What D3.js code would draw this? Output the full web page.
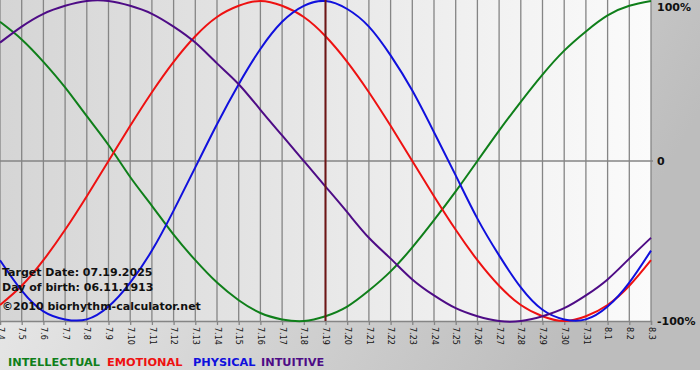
<!DOCTYPE html>
<html>
<head>
<meta charset="utf-8">
<script src="https://cdn.jsdelivr.net/npm/d3@7"></script>
<style>
  body { margin: 0; background: #fff; }
  svg { display: block; font-family: "DejaVu Sans", Verdana, sans-serif; }
</style>
</head>
<body>
<svg id="chart" width="700" height="380"></svg>
<script>
// days shown: 7.4 .. 8.3 (2025)
const startDay = new Date(Date.UTC(2025, 6, 4));
const targetDay = new Date(Date.UTC(2025, 6, 19));
const dayCount = 31;

// values, one per day (-1 .. 1)
const physical = [-0.62, -0.81, -0.94, -0.99, -0.99, -0.91, -0.76, -0.56, -0.31, -0.04, 0.23, 0.48, 0.70, 0.87, 0.97, 1.00,
  0.95, 0.84, 0.66, 0.44, 0.18, -0.09, -0.36, -0.59, -0.79, -0.93, -0.99, -0.99, -0.91, -0.76, -0.56];
const emotional = [-0.90, -0.78, -0.62, -0.43, -0.22, 0.00, 0.22, 0.43, 0.62, 0.78, 0.90, 0.97, 1.00, 0.97, 0.90, 0.78,
  0.62, 0.43, 0.22, 0.00, -0.22, -0.43, -0.62, -0.78, -0.90, -0.97, -1.00, -0.97, -0.90, -0.78, -0.62];
const intellectual = [0.87, 0.76, 0.62, 0.46, 0.28, 0.10, -0.10, -0.28, -0.46, -0.62, -0.76, -0.87, -0.95, -0.99, -1.00, -0.97,
  -0.91, -0.81, -0.69, -0.54, -0.37, -0.19, 0.00, 0.19, 0.37, 0.54, 0.69, 0.81, 0.91, 0.97, 1.00];
const intuitive = [0.74, 0.84, 0.92, 0.97, 1.00, 1.00, 0.97, 0.92, 0.84, 0.74, 0.61, 0.48, 0.32, 0.16, 0.00, -0.16,
  -0.32, -0.48, -0.61, -0.74, -0.84, -0.92, -0.97, -1.00, -1.00, -0.97, -0.92, -0.84, -0.74, -0.61, -0.48];

const series = [
  { name: 'INTELLECTUAL', color: '#0f7f1a', values: intellectual },
  { name: 'EMOTIONAL', color: '#ee1111', values: emotional },
  { name: 'PHYSICAL', color: '#1010dd', values: physical },
  { name: 'INTUITIVE', color: '#4e0c86', values: intuitive }
];
const yLabels = ['100%', '0', '-100%'];
const infoLines = ['Target Date: 07.19.2025', 'Day of birth: 06.11.1913', '©2010 biorhythm-calculator.net'];

const days = d3.range(dayCount).map(i => d3.utcDay.offset(startDay, i));

const svg = d3.select('#chart');
const plot = { left: 0, right: 651, top: 1, bottom: 321 };

const x = d3.scaleUtc().domain([days[0], days[days.length - 1]]).range([plot.left, plot.right]);
const y = d3.scaleLinear().domain([-1, 1]).range([plot.bottom, plot.top]);

// Backgrounds
const defs = svg.append('defs');
const outerGrad = defs.append('linearGradient').attr('id', 'outerGrad')
  .attr('x1', 0).attr('y1', 0).attr('x2', 1).attr('y2', 0.3);
outerGrad.append('stop').attr('offset', '0%').attr('stop-color', '#f2f2f2');
outerGrad.append('stop').attr('offset', '100%').attr('stop-color', '#bdbdbd');

const plotGrad = defs.append('linearGradient').attr('id', 'plotGrad')
  .attr('x1', 0).attr('y1', 0).attr('x2', 1).attr('y2', 0);
plotGrad.append('stop').attr('offset', '0%').attr('stop-color', '#d5d5d5');
plotGrad.append('stop').attr('offset', '100%').attr('stop-color', '#fbfbfb');

svg.append('rect').attr('width', 700).attr('height', 370).attr('fill', 'url(#outerGrad)');
svg.append('rect')
  .attr('x', plot.left).attr('y', 0)
  .attr('width', plot.right - plot.left).attr('height', plot.bottom)
  .attr('fill', 'url(#plotGrad)');

// Vertical grid
svg.append('g')
  .selectAll('line')
  .data(days)
  .join('line')
  .attr('x1', d => x(d)).attr('x2', d => x(d))
  .attr('y1', 0).attr('y2', plot.bottom)
  .attr('stroke', '#858585')
  .attr('stroke-width', 1.3);

// Zero line
svg.append('line')
  .attr('x1', plot.left).attr('x2', plot.right + 2)
  .attr('y1', y(0)).attr('y2', y(0))
  .attr('stroke', '#858585').attr('stroke-width', 1.3);

// Bottom axis
const xAxis = d3.axisBottom(x)
  .tickValues(days)
  .tickSize(4)
  .tickFormat(d3.utcFormat('%-m.%-d'));

const axisG = svg.append('g')
  .attr('transform', `translate(0,${plot.bottom})`)
  .call(xAxis);
axisG.select('.domain').attr('stroke', '#858585').attr('stroke-width', 1.3);
axisG.selectAll('.tick line').attr('stroke', '#858585').attr('stroke-width', 1.3);
axisG.selectAll('.tick text')
  .attr('font-family', '"DejaVu Sans", sans-serif')
  .attr('font-size', 8)
  .attr('fill', '#111')
  .attr('text-anchor', 'start')
  .attr('transform', 'rotate(90)')
  .attr('x', 6)
  .attr('y', 0)
  .attr('dy', '0.35em');

// Curves
const line = d3.line()
  .x((d, i) => x(days[i]))
  .y(d => y(d))
  .curve(d3.curveNatural);

svg.append('g')
  .selectAll('path')
  .data(series)
  .join('path')
  .attr('d', d => line(d.values))
  .attr('fill', 'none')
  .attr('stroke', d => d.color)
  .attr('stroke-width', 2);

// Target date marker
svg.append('line')
  .attr('x1', x(targetDay)).attr('x2', x(targetDay))
  .attr('y1', 0).attr('y2', plot.bottom)
  .attr('stroke', '#6e1616').attr('stroke-width', 2);

// Right side labels
svg.append('g')
  .selectAll('text')
  .data(yLabels)
  .join('text')
  .attr('x', 657)
  .attr('y', (d, i) => [y(1) + 6, y(0), y(-1)][i])
  .attr('dy', '0.35em')
  .attr('font-size', 11)
  .attr('font-weight', 'bold')
  .attr('fill', '#111')
  .text(d => d);

// Info text
svg.append('g')
  .selectAll('text')
  .data(infoLines)
  .join('text')
  .attr('x', 2)
  .attr('y', (d, i) => [276, 291, 310][i])
  .attr('font-size', 11)
  .attr('font-weight', 'bold')
  .attr('fill', '#111')
  .text(d => d);

// Legend
const legendX = [8, 107, 193, 261];
svg.append('g')
  .selectAll('text')
  .data(series)
  .join('text')
  .attr('x', (d, i) => legendX[i])
  .attr('y', 366)
  .attr('font-size', 11.3)
  .attr('font-weight', 'bold')
  .attr('fill', d => d.color)
  .text(d => d.name);
</script>
</body>
</html>
